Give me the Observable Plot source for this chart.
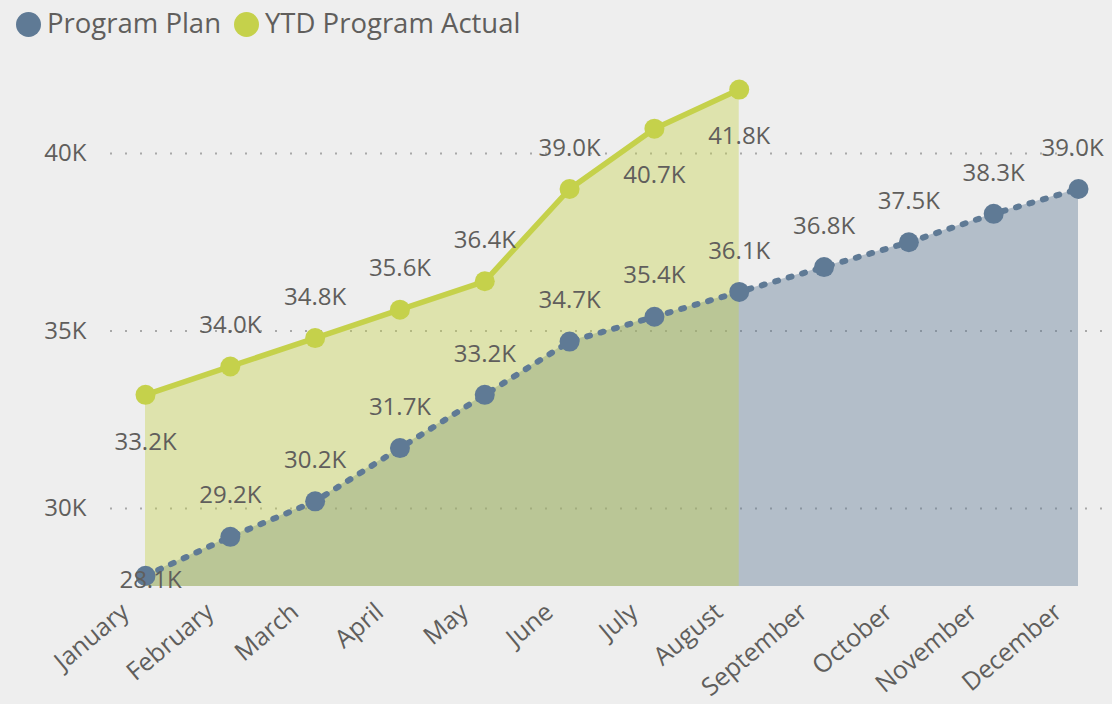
<!DOCTYPE html>
<html><head><meta charset="utf-8">
<script src="https://cdn.jsdelivr.net/npm/d3@7"></script>
<script src="https://cdn.jsdelivr.net/npm/@observablehq/plot@0.6"></script>
<style>
body{margin:0;background:#eeeeee;font-family:"Open Sans",sans-serif;overflow:hidden}
#legend{height:48px;position:relative;color:#605e5c;font-size:27.5px}
.sw{position:absolute;width:25px;height:25px;border-radius:50%;top:12px}
.lt{position:absolute;top:3px;white-space:nowrap;line-height:40px}
</style></head><body>
<div id="legend"></div><div id="chart"></div>
<script>
const months = ["January","February","March","April","May","June","July","August","September","October","November","December"];
const planValues = [28.1, 29.2, 30.2, 31.7, 33.2, 34.7, 35.4, 36.1, 36.8, 37.5, 38.3, 39.0];
const actualValues = [33.2, 34.0, 34.8, 35.6, 36.4, 39.0, 40.7, 41.8];
const yTicks = [30, 35, 40];
const seriesNames = ["Program Plan", "YTD Program Actual"];
const colors = ["#5f7a95", "#c5d14b"];

const plan = months.map((m, i) => ({month: m, value: planValues[i]}));
const actual = actualValues.map((v, i) => ({month: months[i], value: v}));
const yMin = 27.8;
const fmt = v => v.toFixed(1) + "K";
const actualBelow = new Set(["January", "July", "August"]);

// legend
const lg = document.getElementById("legend");
const legendPos = [[16, 47], [234, 265]];
seriesNames.forEach((n, i) => {
  const s = document.createElement("div"); s.className = "sw"; s.style.left = legendPos[i][0] + "px"; s.style.background = colors[i]; lg.appendChild(s);
  const t = document.createElement("div"); t.className = "lt"; t.style.left = legendPos[i][1] + "px"; t.textContent = n; lg.appendChild(t);
});

const txt = "#605e5c";
const lbl = {x: "month", y: "value", text: d => fmt(d.value), fill: txt, fontSize: 24};
const chart = Plot.plot({
  width: 1112, height: 656,
  marginLeft: 110, marginRight: 6, marginTop: 0, marginBottom: 118,
  style: {background: "transparent", fontFamily: "Open Sans", fontSize: "24px", color: txt, overflow: "visible"},
  x: {type: "point", domain: months, range: [145, 1078], padding: 0, round: false},
  y: {domain: [yMin, 40], range: [538, 105]},
  marks: [
    Plot.ruleY(yTicks, {stroke: "#a8a8a8", strokeWidth: 2, strokeDasharray: "2,13"}),
    Plot.areaY(plan, {x: "month", y1: yMin, y2: "value", fill: colors[0], fillOpacity: 0.41}),
    Plot.areaY(actual, {x: "month", y1: yMin, y2: "value", fill: colors[1], fillOpacity: 0.4}),
    Plot.line(plan, {x: "month", y: "value", stroke: colors[0], strokeWidth: 6, strokeDasharray: "3,11", strokeLinecap: "round"}),
    Plot.line(actual, {x: "month", y: "value", stroke: colors[1], strokeWidth: 5.5}),
    Plot.dot(plan, {x: "month", y: "value", r: 10, fill: colors[0]}),
    Plot.dot(actual, {x: "month", y: "value", r: 10, fill: colors[1]}),
    Plot.text(plan.slice(1, -1), {...lbl, dy: -41}),
    Plot.text(plan.slice(-1), {...lbl, dy: -41, dx: -6}),
    Plot.text(plan.slice(0, 1), {...lbl, dy: 4, dx: 5}),
    Plot.text(actual.filter(d => !actualBelow.has(d.month)), {...lbl, dy: -41}),
    Plot.text(actual.filter(d => actualBelow.has(d.month)), {...lbl, dy: 47}),
    Plot.axisY({ticks: yTicks, tickFormat: d => d + "K", tickSize: 0, tickPadding: 24, label: null, fontSize: 24}),
    Plot.axisX({tickRotate: -40, tickSize: 0, tickPadding: 8, dx: -20, dy: 14, label: null, fontSize: 25})
  ]
});
document.getElementById("chart").appendChild(chart);
</script>
</body></html>
